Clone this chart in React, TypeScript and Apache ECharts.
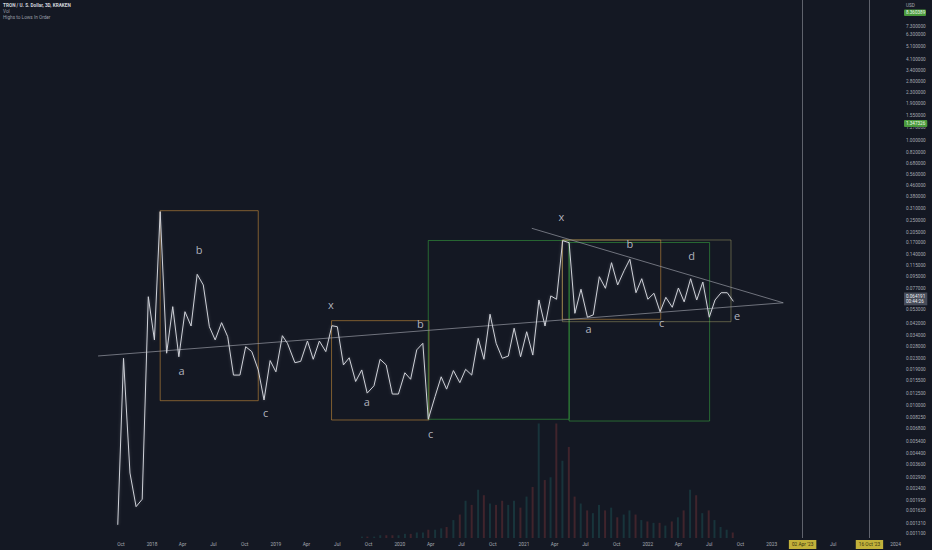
import React, { useEffect, useRef } from "react";
import * as echarts from "echarts";

// ---- price line (3D TRX/USD) ----
const priceDates = [
  "2017-09-22", "2017-10-09", "2017-10-28", "2017-11-15", "2017-12-03", "2017-12-21",
  "2018-01-08", "2018-01-25", "2018-02-13", "2018-03-03", "2018-03-21", "2018-04-08",
  "2018-04-26", "2018-05-14", "2018-06-01", "2018-06-19", "2018-07-06", "2018-07-25",
  "2018-08-12", "2018-08-29", "2018-09-17", "2018-10-04", "2018-10-22", "2018-11-10",
  "2018-11-27", "2018-12-15", "2019-01-01", "2019-01-20", "2019-02-04", "2019-02-26",
  "2019-03-15", "2019-04-04", "2019-04-21", "2019-05-09", "2019-05-28", "2019-06-15",
  "2019-07-01", "2019-07-19", "2019-08-05", "2019-08-24", "2019-09-11", "2019-09-27",
  "2019-10-17", "2019-11-04", "2019-11-22", "2019-12-10", "2019-12-28", "2020-01-16",
  "2020-02-02", "2020-02-20", "2020-03-09", "2020-03-25", "2020-04-14", "2020-05-02",
  "2020-05-18", "2020-06-07", "2020-06-26", "2020-07-13", "2020-07-31", "2020-08-19",
  "2020-09-05", "2020-09-23", "2020-10-11", "2020-10-29", "2020-11-16", "2020-12-03",
  "2020-12-22", "2021-01-09", "2021-01-27", "2021-02-14", "2021-03-04", "2021-03-21",
  "2021-04-07", "2021-04-25", "2021-05-14", "2021-05-31", "2021-06-18", "2021-07-07",
  "2021-07-24", "2021-08-11", "2021-08-29", "2021-09-16", "2021-10-04", "2021-10-23",
  "2021-11-09", "2021-11-27", "2021-12-14", "2022-01-01", "2022-01-19", "2022-02-06",
  "2022-02-23", "2022-03-14", "2022-04-01", "2022-04-18", "2022-05-07", "2022-05-25",
  "2022-06-12", "2022-07-01", "2022-07-18", "2022-08-05", "2022-08-23", "2022-09-10",
];
const priceValues = [
  0.00127, 0.0229, 0.00312, 0.00174, 0.00198, 0.0667,
  0.0315, 0.292, 0.025, 0.0561, 0.0235, 0.0514,
  0.0401, 0.0984, 0.0818, 0.0396, 0.0315, 0.0425,
  0.0333, 0.0171, 0.0171, 0.028, 0.0257, 0.0187,
  0.0111, 0.022, 0.0181, 0.0339, 0.0297, 0.0212,
  0.0217, 0.0309, 0.0225, 0.0309, 0.0257, 0.0403,
  0.0396, 0.0204, 0.0231, 0.0153, 0.0187, 0.0125,
  0.0142, 0.0225, 0.0204, 0.0123, 0.0123, 0.0178,
  0.0159, 0.0265, 0.0297, 0.00794, 0.0118, 0.0166,
  0.0134, 0.0185, 0.015, 0.0189, 0.0171, 0.0324,
  0.0225, 0.0492, 0.0297, 0.0229, 0.0238, 0.0386,
  0.0235, 0.0363, 0.0242, 0.063, 0.0401, 0.0676,
  0.0638, 0.1765, 0.1704, 0.05, 0.0759, 0.0467,
  0.0486, 0.0944, 0.0772, 0.1204, 0.0818, 0.1048,
  0.1278, 0.0715, 0.0912, 0.0638, 0.0708, 0.0514,
  0.066, 0.0555, 0.0776, 0.061, 0.0912, 0.063,
  0.0861, 0.0467, 0.063, 0.0715, 0.0715, 0.0615,
];
// volume, same dates as the price line (relative units)
const volumeValues = [
  0, 0, 0, 0, 0, 0, 0, 0, 0, 0, 0, 0,
  0, 0, 0, 0, 0, 0, 0, 0, 0, 0, 0, 0,
  0, 0, 0, 0, 0, 0, 0, 0, 0, 0, 0, 0,
  0, 0, 0, 0, 1, 1, 1, 2, 2, 2, 2, 3,
  3, 4, 4, 6, 6, 7, 8, 13, 17, 27, 24, 35,
  31, 25, 24, 27, 24, 27, 22, 30, 37, 83, 42, 44,
  83, 56, 66, 30, 25, 20, 18, 24, 20, 22, 15, 17,
  20, 17, 13, 12, 11, 11, 9, 12, 15, 20, 35, 31,
  18, 20, 13, 8, 6, 4,
];
const lastPrice = 0.064191;
const lastPriceCountdown = "00:44:26";
const alertPrice = 1.347326;
const alertTopText = "8.360389";

// ---- price-scale tick labels ----
const priceTicks = [
  7.3, 6.3, 5.1, 4.1, 3.4, 2.8, 2.3, 1.9, 1.55, 1.27, 1.0, 0.82, 0.68, 0.56, 0.46,
  0.38, 0.31, 0.25, 0.205, 0.17, 0.14, 0.115, 0.095, 0.077, 0.053, 0.042, 0.034,
  0.028, 0.023, 0.019, 0.0155, 0.0125, 0.01, 0.00825, 0.0068, 0.0054, 0.0044,
  0.0036, 0.0029, 0.0024, 0.00195, 0.00162, 0.00131, 0.0011,
];

// ---- time-scale tick labels ----
const timeTickDates = [
  "2017-10-01", "2018-01-01", "2018-04-01", "2018-07-01", "2018-10-01",
  "2019-01-01", "2019-04-01", "2019-07-01", "2019-10-01", "2020-01-01",
  "2020-04-01", "2020-07-01", "2020-10-01", "2021-01-01", "2021-04-01",
  "2021-07-01", "2021-10-01", "2022-01-01", "2022-04-01", "2022-07-01",
  "2022-10-01", "2023-01-01", "2023-07-01", "2024-01-01",
];
const timeTickLabels = [
  "Oct", "2018", "Apr", "Jul", "Oct", "2019", "Apr", "Jul", "Oct", "2020",
  "Apr", "Jul", "Oct", "2021", "Apr", "Jul", "Oct", "2022", "Apr", "Jul",
  "Oct", "2023", "Jul", "2024",
];

// ---- vertical time cycle lines ----
const cycleDates = ["2023-04-02", "2023-10-16"];
const cycleLabels = ["02 Apr '23", "16 Oct '23"];

// ---- trend lines ----
const lowerTrendDates = ["2017-07-26", "2023-02-04"];
const lowerTrendValues = [0.02383, 0.06];
const upperTrendDates = ["2021-01-24", "2023-02-04"];
const upperTrendValues = [0.2188, 0.06];

// ---- boxes ----
const boxStart = ["2018-01-25", "2019-06-14", "2020-03-25", "2021-05-14", "2021-04-24", "2021-04-24"];
const boxEnd = ["2018-11-10", "2020-03-27", "2021-05-14", "2022-07-02", "2022-02-08", "2022-09-03"];
const boxHigh = [0.2971, 0.044, 0.1771, 0.171, 0.1786, 0.1786];
const boxLow = [0.01096, 0.00784, 0.00794, 0.0077, 0.04506, 0.04322];
const boxKind = ["orange", "orange", "green", "green", "orange", "olive"];

// ---- wave labels ----
const waveTexts = ["b", "a", "c", "x", "a", "b", "c", "x", "b", "a", "c", "d", "e"];
const waveDates = [
  "2018-05-20", "2018-03-29", "2018-12-02", "2019-06-12", "2019-09-26", "2020-03-02",
  "2020-04-01", "2021-04-21", "2021-11-09", "2021-07-10", "2022-02-11", "2022-05-10",
  "2022-09-21",
];
const waveValues = [
  0.1502, 0.01846, 0.0089, 0.0585, 0.01072, 0.04153, 0.006224, 0.2677, 0.1687,
  0.03855, 0.04278, 0.1353, 0.04772,
];

const BOX_COLORS: Record<string, string> = {
  orange: "rgba(214,150,60,0.55)",
  green: "rgba(56,170,64,0.55)",
  olive: "rgba(180,172,110,0.45)",
};

const FONT = 'Roboto, "Noto Sans", sans-serif';
const AXIS_TEXT = "#a6a9b2";

export default function App() {
  const ref = useRef<HTMLDivElement>(null);

  useEffect(() => {
    document.body.style.margin = "0";
    if (!ref.current) return;
    const chart = echarts.init(ref.current, null, { renderer: "svg" });

    const xMin = Date.UTC(2016, 9, 10);
    const xMax = Date.UTC(2024, 0, 14);

    const priceData = priceDates.map((d, i) => [d, priceValues[i]]);
    const volumeData = priceDates.map((d, i) => ({
      value: [d, volumeValues[i]],
      itemStyle: {
        color:
          i > 0 && priceValues[i] < priceValues[i - 1]
            ? "rgba(239,83,80,0.2)"
            : "rgba(38,166,154,0.2)",
      },
    }));

    const boxes = boxStart.map((s, i) => [
      {
        coord: [s, boxHigh[i]],
        itemStyle: {
          color: "rgba(0,0,0,0)",
          borderColor: BOX_COLORS[boxKind[i]],
          borderWidth: 1,
        },
      },
      { coord: [boxEnd[i], boxLow[i]] },
    ]);

    const hidden = { show: false };
    const hostPoint = [[priceDates[0], priceValues[0]]];
    const markBase = {
      silent: true,
      precision: 10,
      symbol: ["none", "none"],
      lineStyle: { color: "rgba(0,0,0,0)", width: 0 },
    };

    const option: any = {
      animation: false,
      backgroundColor: "#141823",
      textStyle: { fontFamily: FONT },
      grid: [
        { left: 0, right: 32, top: 0, bottom: 12 },
        { left: 0, right: 32, top: 400, bottom: 12 },
      ],
      xAxis: [
        { type: "time", gridIndex: 0, min: xMin, max: xMax, show: false, splitLine: hidden },
        { type: "time", gridIndex: 1, min: xMin, max: xMax, show: false, splitLine: hidden },
      ],
      yAxis: [
        { type: "log", logBase: 10, gridIndex: 0, min: 0.00101, max: 11.53, show: false, splitLine: hidden },
        { type: "value", gridIndex: 1, min: 0, max: 100, show: false, splitLine: hidden },
      ],
      graphic: [
        {
          type: "text",
          left: 3,
          top: 3,
          style: {
            text: "TRON / U. S. Dollar, 3D, KRAKEN",
            fill: "#d1d4dc",
            font: `bold 4.7px ${FONT}`,
          },
        },
        {
          type: "text",
          left: 3,
          top: 9.2,
          style: { text: "Vol", fill: "#9a9da6", font: `4.7px ${FONT}` },
        },
        {
          type: "text",
          left: 3,
          top: 15.2,
          style: { text: "Highs to Lows In Order", fill: "#9a9da6", font: `4.7px ${FONT}` },
        },
        {
          type: "text",
          left: 906,
          top: 2.5,
          style: { text: "USD", fill: AXIS_TEXT, font: `4.7px ${FONT}` },
        },
        {
          type: "group",
          left: 904,
          top: 9.5,
          children: [
            { type: "rect", shape: { x: 0, y: 0, width: 22, height: 6.5, r: 1 }, style: { fill: "#4a9a3c" } },
            {
              type: "text",
              x: 2,
              y: 3.3,
              style: { text: alertTopText, fill: "#eef8ea", font: `4.6px ${FONT}`, verticalAlign: "middle" },
            },
          ],
        },
      ],
      series: [
        {
          type: "bar",
          xAxisIndex: 1,
          yAxisIndex: 1,
          barWidth: 2,
          data: volumeData,
          silent: true,
          z: 1,
        },
        {
          name: "price",
          type: "line",
          xAxisIndex: 0,
          yAxisIndex: 0,
          data: priceData,
          showSymbol: false,
          symbol: "none",
          lineStyle: {
            color: "#cfd1d8",
            width: 1,
            shadowColor: "rgba(200,204,214,0.3)",
            shadowBlur: 3,
          },
          z: 5,
          markArea: {
            silent: true,
            data: boxes,
            z: 2,
          },
        },
        {
          type: "line",
          data: lowerTrendDates.map((d, i) => [d, lowerTrendValues[i]]),
          symbol: "none",
          lineStyle: { color: "rgba(150,153,162,0.7)", width: 1 },
          z: 4,
          silent: true,
        },
        {
          type: "line",
          data: upperTrendDates.map((d, i) => [d, upperTrendValues[i]]),
          symbol: "none",
          lineStyle: { color: "rgba(150,153,162,0.7)", width: 1 },
          z: 4,
          silent: true,
        },
        {
          type: "scatter",
          data: waveDates.map((d, i) => ({ value: [d, waveValues[i]], name: waveTexts[i] })),
          symbolSize: 0,
          silent: true,
          z: 6,
          label: {
            show: true,
            position: "inside",
            formatter: "{b}",
            color: "#d8dae0",
            fontSize: 11,
            fontFamily: '"Open Sans", "Noto Sans", sans-serif',
          },
        },
        // price-scale tick labels
        {
          type: "line",
          data: hostPoint,
          symbol: "none",
          clip: false,
          silent: true,
          lineStyle: { opacity: 0 },
          markLine: {
            ...markBase,
            label: {
              position: "end",
              distance: 6,
              color: AXIS_TEXT,
              fontSize: 4.7,
              fontFamily: FONT,
            },
            data: priceTicks.map((v) => ({ yAxis: v, label: { formatter: v.toFixed(6) } })),
          },
        },
        // alert + last price labels
        {
          type: "line",
          data: hostPoint,
          symbol: "none",
          clip: false,
          silent: true,
          lineStyle: { opacity: 0 },
          z: 8,
          markLine: {
            ...markBase,
            data: [
              {
                yAxis: alertPrice,
                label: {
                  position: "end",
                  distance: 4,
                  formatter: alertPrice.toFixed(6),
                  color: "#eef8ea",
                  backgroundColor: "#4a9a3c",
                  padding: [1, 2],
                  borderRadius: 1,
                  fontSize: 4.6,
                  fontFamily: FONT,
                },
              },
              {
                yAxis: lastPrice,
                label: {
                  position: "end",
                  distance: 4,
                  formatter: `${lastPrice.toFixed(6)}\n${lastPriceCountdown}`,
                  color: "#eceef3",
                  backgroundColor: "#474c59",
                  padding: [1, 2],
                  lineHeight: 5.4,
                  fontSize: 4.6,
                  fontFamily: FONT,
                },
              },
            ],
          },
        },
        // time-scale labels
        {
          type: "line",
          data: hostPoint,
          symbol: "none",
          clip: false,
          silent: true,
          lineStyle: { opacity: 0 },
          markLine: {
            ...markBase,
            label: {
              position: "start",
              distance: 4,
              color: AXIS_TEXT,
              fontSize: 4.8,
              fontFamily: FONT,
            },
            data: timeTickDates.map((d, i) => ({ xAxis: d, label: { formatter: timeTickLabels[i] } })),
          },
        },
        // time cycle vertical lines
        {
          type: "line",
          data: hostPoint,
          symbol: "none",
          clip: false,
          silent: true,
          lineStyle: { opacity: 0 },
          markLine: {
            ...markBase,
            lineStyle: { color: "rgba(120,123,134,0.75)", width: 1, type: "solid" },
            label: {
              position: "start",
              distance: 2,
              color: "#3a3410",
              backgroundColor: "#c2b13a",
              padding: [2, 3],
              fontSize: 4.8,
              fontFamily: FONT,
            },
            data: cycleDates.map((d, i) => ({ xAxis: d, label: { formatter: cycleLabels[i] } })),
          },
        },
      ],
    };

    chart.setOption(option);
    return () => chart.dispose();
  }, []);

  return <div ref={ref} style={{ width: 932, height: 550 }} />;
}
